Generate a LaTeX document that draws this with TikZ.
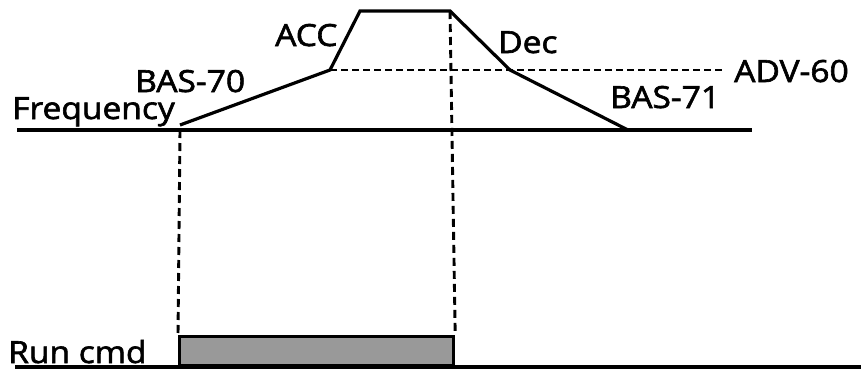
\documentclass[tikz,border=0pt]{standalone}
\usepackage{fontspec}
\newfontfamily\lblfont{Open Sans}[FakeBold=2,FakeStretch=1.1]
\begin{document}
\begin{tikzpicture}[x=1pt,y=-1pt,
  sig/.style={line width=3.2pt,line join=miter},
  guide/.style={line width=2.9pt,dash pattern=on 8pt off 5pt},
  hguide/.style={line width=2.9pt,dash pattern=on 7pt off 4pt},
  lbl/.style={inner sep=0pt,anchor=base west,font=\lblfont\fontsize{30.5}{32}\selectfont}]
\useasboundingbox (0,0) rectangle (861,370);
% frequency profile
\coordinate (f0) at (17,130);
\coordinate (fs) at (180,125);
\coordinate (fa) at (330,70);
\coordinate (ft1) at (360,11);
\coordinate (ft2) at (450,11);
\coordinate (fd) at (510,70);
\coordinate (fe) at (628,130);
\coordinate (f1) at (752,130);
\coordinate (adv) at (722,70);
\draw[sig] (f0) -- (f1);
\draw[sig] (fs) -- (fa) -- (ft1) -- (ft2) -- (fd) -- (fe);
\draw[hguide] (fa) -- (adv);
% run command
\coordinate (r0) at (15,367);
\coordinate (r1) at (861,367);
\node[draw,line width=3.2pt,fill=black!40,inner sep=0pt,minimum width=274pt,minimum height=29pt,anchor=south west] (run) at (178,367) {};
\draw[sig] (r0) -- (r1);
\draw[guide] (180,130) -- (run.north west);
\draw[guide] (ft2) -- (run.north east);
% labels
\node[lbl] (tfreq) at (12,119) {Frequency};
\node[lbl] (tbas70) at (135,92) {BAS-70};
\node[lbl] (tacc) at (275,46) {ACC};
\node[lbl] (tdec) at (498,53) {Dec};
\node[lbl] (tadv) at (734,82) {ADV-60};
\node[lbl] (tbas71) at (610,108) {BAS-71};
\node[lbl] (trun) at (8,363) {Run cmd};
\end{tikzpicture}
\end{document}
